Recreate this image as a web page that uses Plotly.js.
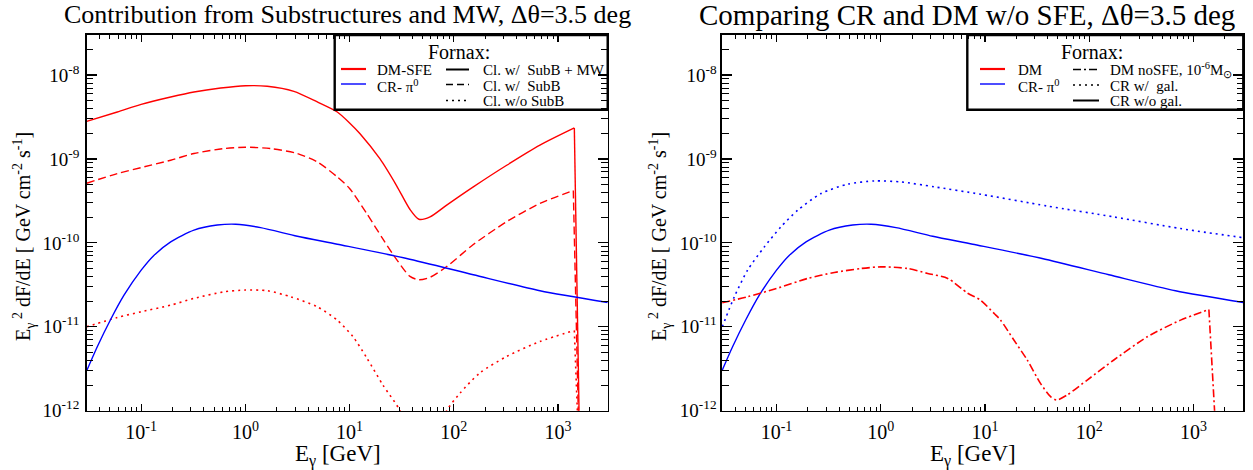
<!DOCTYPE html>
<html>
<head>
<meta charset="utf-8">
<script src="https://cdn.plot.ly/plotly-3.0.1.min.js"></script>
<style>html,body{margin:0;padding:0;background:#fff;}#chart{width:1253px;height:470px;}</style>
</head>
<body>
<div id="chart"></div>
<script>
// ---------- data (E in GeV, E^2 dF/dE in GeV cm^-2 s^-1) ----------
// Left panel: Contribution from Substructures and MW
const dmSubMW_E = [0.030, 0.059, 0.10, 0.192, 0.321, 0.579, 1.0, 1.62, 2.92, 4.9, 7.62, 10, 12.6, 19.6, 28.3, 38.0, 46.3, 59.2, 85.5, 154, 322, 671, 1435, 1607];
const dmSubMW_F = [2.81e-9, 3.63e-9, 4.48e-9, 5.47e-9, 6.28e-9, 7.0e-9, 7.46e-9, 7.35e-9, 6.4e-9, 4.78e-9, 3.63e-9, 2.69e-9, 2.0e-9, 1.0e-9, 4.79e-10, 2.5e-10, 1.91e-10, 2.04e-10, 2.82e-10, 4.65e-10, 8.41e-10, 1.46e-9, 2.34e-9, 5e-13];

const dmSub_E = [0.030, 0.059, 0.10, 0.192, 0.321, 0.624, 1.0, 1.75, 3.15, 4.9, 7.62, 10, 14.6, 21.0, 28.3, 38.0, 46.3, 59.2, 85.5, 154, 322, 671, 1403, 1585];
const dmSub_F = [5.14e-10, 6.7e-10, 7.89e-10, 9.66e-10, 1.16e-9, 1.33e-9, 1.38e-9, 1.33e-9, 1.16e-9, 9.23e-10, 6.11e-10, 4.45e-10, 2.24e-10, 1.10e-10, 6.31e-11, 3.98e-11, 3.63e-11, 3.89e-11, 5.22e-11, 9.55e-11, 1.79e-10, 2.95e-10, 4.2e-10, 5e-13];

const dmNoSub_E = [0.030, 0.059, 0.10, 0.192, 0.321, 0.624, 1.0, 1.62, 2.72, 4.9, 7.62, 10.8, 14.6, 21.0, 30.5, 50, 85.5, 114.8, 177.8, 322, 671, 1435, 1567];
const dmNoSub_F = [1.0e-11, 1.29e-11, 1.51e-11, 1.81e-11, 2.18e-11, 2.61e-11, 2.74e-11, 2.69e-11, 2.28e-11, 1.73e-11, 1.2e-11, 7.6e-12, 4.27e-12, 2.0e-12, 1.0e-12, 2e-13, 1.0e-12, 1.62e-12, 2.82e-12, 4.43e-12, 6.68e-12, 9.04e-12, 5e-13];

const crPi0_E = [0.030, 0.0379, 0.0509, 0.0684, 0.10, 0.133, 0.192, 0.321, 0.537, 0.807, 1.40, 3.15, 7.62, 35.3, 154, 671, 3000];
const crPi0_F = [2.99e-12, 5.78e-12, 1.22e-11, 2.38e-11, 4.73e-11, 7.14e-11, 1.03e-10, 1.42e-10, 1.63e-10, 1.67e-10, 1.52e-10, 1.2e-10, 9.64e-11, 6.52e-11, 4.17e-11, 2.69e-11, 1.95e-11];

// Right panel: Comparing CR and DM w/o SFE
const crGal_E = [0.0302, 0.0394, 0.0528, 0.0764, 0.110, 0.160, 0.267, 0.482, 0.869, 1.57, 3.27, 9.04, 39.4, 172, 750, 3040];
const crGal_F = [1.0e-11, 2.28e-11, 4.73e-11, 8.95e-11, 1.55e-10, 2.45e-10, 3.87e-10, 5.01e-10, 5.47e-10, 5.32e-10, 4.65e-10, 3.8e-10, 2.75e-10, 2.04e-10, 1.48e-10, 1.15e-10];

const dmNoSFE_E = [0.0302, 0.0528, 0.10, 0.199, 0.359, 0.647, 1.0, 1.81, 2.82, 4.39, 6.82, 9.04, 12.3, 14.1, 18.9, 25.4, 34.0, 42.5, 48.5, 61.4, 95.5, 172, 360, 750, 1403, 1641];
const dmNoSFE_F = [1.93e-11, 2.28e-11, 2.86e-11, 3.77e-11, 4.44e-11, 4.95e-11, 5.18e-11, 4.95e-11, 4.32e-11, 3.77e-11, 2.51e-11, 2.08e-11, 1.43e-11, 1.2e-11, 6.95e-12, 4.02e-12, 2.12e-12, 1.47e-12, 1.34e-12, 1.54e-12, 2.32e-12, 4.02e-12, 7.6e-12, 1.2e-11, 1.61e-11, 5e-13];

// ticks
const xTickVals = [0.1, 1, 10, 100, 1000];
const xTickText = ['10<sup>-1</sup>', '10<sup>0</sup>', '10<sup>1</sup>', '10<sup>2</sup>', '10<sup>3</sup>'];
const yTickVals = [1e-12, 1e-11, 1e-10, 1e-9, 1e-8];
const yTickText = ['10<sup>-12</sup>', '10<sup>-11</sup>', '10<sup>-10</sup>', '10<sup>-9</sup>', '10<sup>-8</sup>'];

// ---------- styling ----------
const RED = 'rgb(255,0,0)', BLUE = 'rgb(0,0,255)';
const FONT = 'Liberation Serif, Times New Roman, serif';
const W = 1253, H = 470;

function minorVals(d0, d1) {
  const v = [];
  for (let d = d0; d <= d1; d++) for (let m = 2; m <= 9; m++) v.push(m * Math.pow(10, d));
  return v;
}
const minorX = minorVals(-2, 3);
const minorY = minorVals(-13, -8);

function xAxis(domain, anchor) {
  return {
    type: 'log', range: [Math.log10(0.03), Math.log10(3000)], domain: domain, anchor: anchor,
    showline: true, linecolor: 'black', linewidth: 1.6, mirror: 'allticks',
    ticks: 'inside', ticklen: 7, tickwidth: 1.2, tickcolor: 'black',
    tickmode: 'array', tickvals: xTickVals, ticktext: xTickText,
    minor: {ticks: 'inside', ticklen: 4, tickwidth: 1, tickcolor: 'black', tickmode: 'array', tickvals: minorX, showgrid: false},
    showgrid: false, zeroline: false, ticklabelstandoff: 3,
    tickfont: {family: FONT, size: 20, color: 'black'}
  };
}
function yAxis(domain, anchor, standoff) {
  return {
    type: 'log', range: [-12, Math.log10(3e-8)], domain: domain, anchor: anchor,
    showline: true, linecolor: 'black', linewidth: 1.6, mirror: 'allticks',
    ticks: 'inside', ticklen: 10, tickwidth: 1.2, tickcolor: 'black',
    tickmode: 'array', tickvals: yTickVals, ticktext: yTickText,
    minor: {ticks: 'inside', ticklen: 6.5, tickwidth: 1, tickcolor: 'black', tickmode: 'array', tickvals: minorY, showgrid: false},
    showgrid: false, zeroline: false, ticklabelstandoff: standoff,
    tickfont: {family: FONT, size: 19, color: 'black'}
  };
}

const DASH = '8px,4px', DOT = '2px,4px', DASHDOT = '8px,3px,2px,3px';

// smooth part of a curve drawn as spline; optional steep cut-off drawn straight
function curve(x, y, color, dash, xa, ya, w, cutoff) {
  const n = cutoff ? x.length - 1 : x.length;
  const out = [{x: x.slice(0, n), y: y.slice(0, n), type: 'scatter', mode: 'lines', xaxis: xa, yaxis: ya,
    line: {color: color, width: w || 1.4, dash: dash, shape: 'spline', smoothing: 0.7}, showlegend: false, hoverinfo: 'skip'}];
  if (cutoff) {
    out.push({x: x.slice(n - 1), y: y.slice(n - 1), type: 'scatter', mode: 'lines', xaxis: xa, yaxis: ya,
      line: {color: color, width: w || 1.4, dash: dash}, showlegend: false, hoverinfo: 'skip'});
  }
  return out;
}

const data = [].concat(
  curve(dmSubMW_E, dmSubMW_F, RED, 'solid', 'x', 'y', 1.4, true),
  curve(dmSub_E, dmSub_F, RED, DASH, 'x', 'y', 1.4, true),
  curve(dmNoSub_E, dmNoSub_F, RED, DOT, 'x', 'y', 1.6, true),
  curve(crPi0_E, crPi0_F, BLUE, 'solid', 'x', 'y', 1.4, false),
  curve(crGal_E, crGal_F, BLUE, DOT, 'x2', 'y2', 1.6, false),
  curve(crPi0_E, crPi0_F, BLUE, 'solid', 'x2', 'y2', 1.4, false),
  curve(dmNoSFE_E, dmNoSFE_F, RED, DASHDOT, 'x2', 'y2', 1.6, true)
);

// pixel -> paper helpers for decorations
const px = v => v / W, py = v => 1 - v / H;

const ann = [];
function txt(text, x, y, size, xanchor, extra) {
  ann.push(Object.assign({text: text, x: px(x), y: py(y), xref: 'paper', yref: 'paper', showarrow: false,
    xanchor: xanchor || 'center', yanchor: 'middle', font: {family: FONT, size: size, color: 'black'}}, extra || {}));
}
// titles
txt('Contribution from Substructures and MW, \u0394\u03b8=3.5 deg', 347, 15, 26);
txt('Comparing CR and DM w/o SFE, \u0394\u03b8=3.5 deg', 967, 15, 29);
// axis titles
const yTitle = 'E<sub>\u03b3</sub><sup> 2</sup> dF/dE [ GeV cm<sup>-2</sup> s<sup>-1</sup>]';
txt(yTitle, 24, 237, 20, 'center', {textangle: -90});
txt(yTitle, 660, 237, 20, 'center', {textangle: -90});
txt('E<sub>\u03b3</sub> [GeV]', 338, 455, 23);
txt('E<sub>\u03b3</sub> [GeV]', 973, 455, 23);
// legends text
txt('Fornax:', 459, 52, 20);
txt('DM-SFE', 375, 70, 15, 'left');
txt('CR- \u03c0<sup>0</sup>', 375, 86, 15, 'left');
txt('Cl. w/  SubB + MW', 481, 70, 15, 'left');
txt('Cl. w/  SubB', 481, 86, 15, 'left');
txt('Cl. w/o SubB', 481, 101.5, 15, 'left');
txt('Fornax:', 1092, 52, 20);
txt('DM', 1016, 70, 15, 'left');
txt('CR- \u03c0<sup>0</sup>', 1016, 86, 15, 'left');
txt('DM noSFE, 10<sup>-6</sup>M<sub>\u2299</sub>', 1108, 70, 15, 'left');
txt('CR w/  gal.', 1108, 86, 15, 'left');
txt('CR w/o gal.', 1108, 101.5, 15, 'left');

const shapes = [];
function seg(x0, x1, y, color, width, dash) {
  shapes.push({type: 'line', xref: 'paper', yref: 'paper', x0: px(x0), x1: px(x1), y0: py(y), y1: py(y),
    line: {color: color, width: width, dash: dash || 'solid'}});
}
function box(x0, x1, y0, y1) {
  shapes.push({type: 'rect', xref: 'paper', yref: 'paper', x0: px(x0), x1: px(x1), y0: py(y0), y1: py(y1),
    line: {color: 'black', width: 2.4}, fillcolor: 'rgba(0,0,0,0)'});
}
box(334.7, 607.7, 35, 109.7);
box(967.3, 1243.3, 35, 109.7);
seg(341, 366, 69, RED, 2.2);
seg(341, 366, 84, BLUE, 1.4);
seg(446, 469, 69.5, 'black', 2);
seg(446, 469, 84.5, 'black', 1.4, '7px,4px');
seg(446, 469, 100.5, 'black', 1.4, '2px,4px');
seg(980, 1005, 69, RED, 2.2);
seg(980, 1005, 84, BLUE, 1.4);
seg(1073, 1099, 69.5, 'black', 1.6, '8px,3px,2px,3px');
seg(1073, 1099, 85, 'black', 1.4, '2px,4px');
seg(1073, 1099, 100.5, 'black', 2);

const layout = {
  width: W, height: H,
  margin: {l: 0, r: 0, t: 0, b: 0},
  paper_bgcolor: 'white', plot_bgcolor: 'white',
  showlegend: false,
  xaxis: xAxis([86.7 / W, 607.7 / W], 'y'),
  yaxis: yAxis([1 - 410.7 / H, 1 - 35 / H], 'x', 2),
  xaxis2: xAxis([722 / W, 1243.3 / W], 'y2'),
  yaxis2: yAxis([1 - 410.7 / H, 1 - 35 / H], 'x2', 0),
  annotations: ann,
  shapes: shapes
};

Plotly.newPlot('chart', data, layout, {staticPlot: true, displayModeBar: false});
</script>
</body>
</html>
